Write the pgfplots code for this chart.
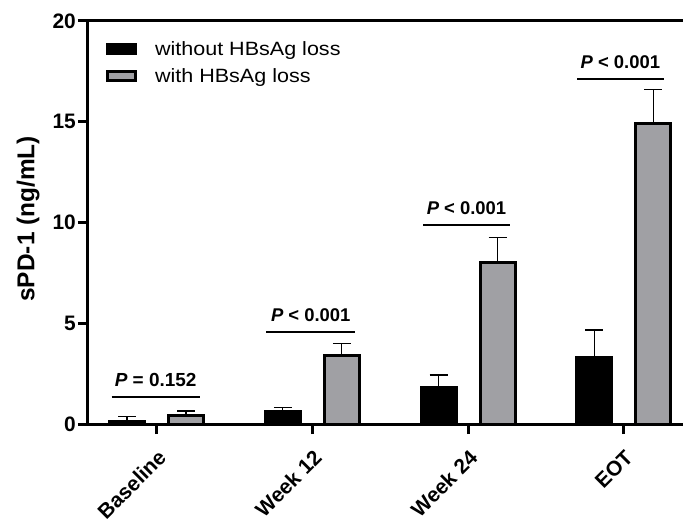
\documentclass[border=0pt]{standalone}
\usepackage{fontspec}
\setmainfont{Liberation Sans}
\newfontfamily\legfont[FakeStretch=1.12]{Liberation Sans}
\usepackage{pgfplots}
\pgfplotsset{compat=1.18}
\definecolor{barGray}{RGB}{160,160,164}
\begin{document}
\begin{tikzpicture}
\useasboundingbox (-88bp,-95bp) rectangle (595bp,424bp);
\begin{axis}[
  at={(0,0)}, anchor=south west,
  scale only axis, width=595bp, height=403bp,
  xmin=-0.44, xmax=3.38, ymin=0, ymax=20,
  axis x line=box, axis y line=left,
  axis line style={-, line width=3bp, black},
  xtick={0,1,2,3}, xticklabels={Baseline,Week 12,Week 24,EOT},
  ytick={0,5,10,15,20},
  xtick pos=bottom, ytick pos=left,
  tick align=outside, major tick length=10bp,
  tick style={line width=3bp, black},
  /pgf/number format/assume math mode=true,
  ticklabel style={font=\bfseries\fontsize{21}{25}\selectfont},
  yticklabel style={inner sep=2bp},
  xticklabel style={xshift=0bp, yshift=-13bp, rotate=45, anchor=north east, inner sep=1bp},
  ylabel={sPD-1 (ng/mL)},
  every axis y label/.style={at={(axis description cs:-0.1008,0.509)}, rotate=90, anchor=center, font=\bfseries\fontsize{24.5}{28}\selectfont},
  ybar, bar width=35bp,
  clip=false,
  legend image code/.code={\draw[#1, line width=3bp] (0bp,-4.5bp) rectangle (28bp,4.5bp); \path (44bp,0bp);},
  legend style={draw=none, fill=none, at={(axis description cs:0.03,0.955)}, anchor=north west, font=\legfont\fontsize{19.3}{23}\selectfont, row sep=8bp, inner sep=0pt},
  legend cell align=left,
  error bars/y dir=plus, error bars/y explicit,
  error bars/error bar style={line width=1.3bp, black},
  error bars/error mark options={rotate=90, mark size=9bp, line width=1.3bp, black},
]
\addplot[fill=black, draw=black, line width=3bp, bar shift=-29.5bp] coordinates {
  (0,0.12) +- (0,0.24)
  (1,0.60) +- (0,0.23)
  (2,1.80) +- (0,0.63)
  (3,3.28) +- (0,1.39)
};
\addplot[fill=barGray, draw=black, line width=3bp, bar shift=29.5bp] coordinates {
  (0,0.40) +- (0,0.25)
  (1,3.42) +- (0,0.58)
  (2,8.00) +- (0,1.25)
  (3,14.92) +- (0,1.68)
};
\legend{without HBsAg loss, with HBsAg loss}
\draw[line width=2bp] (axis cs:-0.288,1.33) -- (axis cs:0.276,1.33);
\draw[line width=2bp] (axis cs:0.705,4.55) -- (axis cs:1.276,4.55);
\draw[line width=2bp] (axis cs:1.712,9.86) -- (axis cs:2.27,9.86);
\draw[line width=2bp] (axis cs:2.70,17.12) -- (axis cs:3.256,17.12);
\node[anchor=base, font=\bfseries\fontsize{19}{22}\selectfont] at (axis cs:-0.006,1.85) {\textit{P} = 0.152};
\node[anchor=base, font=\bfseries\fontsize{18.5}{22}\selectfont] at (axis cs:0.99,5.07) {\textit{P} < 0.001};
\node[anchor=base, font=\bfseries\fontsize{18.5}{22}\selectfont] at (axis cs:1.99,10.38) {\textit{P} < 0.001};
\node[anchor=base, font=\bfseries\fontsize{18.5}{22}\selectfont] at (axis cs:2.978,17.64) {\textit{P} < 0.001};
\end{axis}
\end{tikzpicture}
\end{document}
